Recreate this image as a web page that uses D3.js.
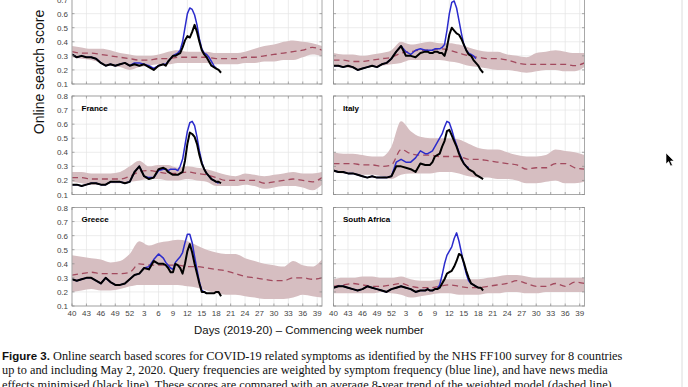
<!DOCTYPE html>
<html>
<head>
<meta charset="utf-8">
<script src="https://cdn.jsdelivr.net/npm/d3@7"></script>
<style>
  body { margin: 0; background: #fff; }
  svg { display: block; }
</style>
</head>
<body>
<script>
// week index 0 = week 40 of 2019, 51 = week 39 of 2020
const tickWeeks = [0, 3, 6, 9, 12, 15, 18, 21, 24, 27, 30, 33, 36, 39, 42, 45, 48, 51];
const tickLabels = ['40', '43', '46', '49', '52', '3', '6', '9', '12', '15', '18', '21', '24', '27', '30', '33', '36', '39'];
const yTicks = [0.1, 0.2, 0.3, 0.4, 0.5, 0.6, 0.7, 0.8];

// 8-year trend (dashed) and its band, every 2 weeks
const bandWeeks = [0, 2, 4, 6, 8, 10, 12, 14, 16, 18, 20, 22, 24, 26, 28, 30, 32, 34, 36, 38, 40, 42, 44, 46, 48, 50, 52];

// search scores, up to May 2 2020
const lineWeeks = [0, 1, 2, 3, 4, 5, 6, 7, 8, 9, 10, 11, 12, 13, 14, 15, 16, 17, 18, 19,
  19.5, 20, 20.5, 21, 21.5, 22, 22.5, 23, 23.5, 24, 24.5, 25, 25.5, 26, 26.5, 27, 27.5, 28, 28.5, 29, 29.5, 30, 30.5, 31];

// top left panel (title cut off)
const aMean  = [0.33, 0.32, 0.32, 0.31, 0.30, 0.29, 0.28, 0.27, 0.27, 0.28, 0.28, 0.29, 0.29, 0.29, 0.29, 0.28, 0.28, 0.28, 0.29, 0.29, 0.30, 0.31, 0.32, 0.33, 0.34, 0.36, 0.34];
const aUpper = [0.37, 0.36, 0.35, 0.35, 0.34, 0.32, 0.31, 0.30, 0.30, 0.31, 0.33, 0.34, 0.33, 0.33, 0.33, 0.32, 0.32, 0.32, 0.33, 0.35, 0.37, 0.38, 0.40, 0.41, 0.40, 0.39, 0.37];
const aLower = [0.29, 0.28, 0.27, 0.25, 0.23, 0.22, 0.20, 0.22, 0.23, 0.24, 0.24, 0.25, 0.25, 0.25, 0.25, 0.24, 0.24, 0.24, 0.25, 0.25, 0.26, 0.26, 0.27, 0.27, 0.29, 0.31, 0.30];
const aBlue  = [0.31, 0.29, 0.30, 0.29, 0.29, 0.28, 0.25, 0.23, 0.24, 0.23, 0.24, 0.25, 0.23, 0.25, 0.25, 0.24, 0.23, 0.21, 0.23, 0.24,
  0.24, 0.26, 0.28, 0.30, 0.31, 0.32, 0.34, 0.40, 0.50, 0.60, 0.64, 0.63, 0.59, 0.52, 0.42, 0.35, 0.32, 0.31, 0.29, 0.26, 0.23, 0.21, null, null];
const aBlack = [0.31, 0.29, 0.30, 0.29, 0.29, 0.28, 0.25, 0.23, 0.24, 0.23, 0.24, 0.25, 0.23, 0.24, 0.23, 0.24, 0.22, 0.20, 0.23, 0.24,
  0.23, 0.26, 0.28, 0.30, 0.30, 0.31, 0.32, 0.36, 0.41, 0.44, 0.43, 0.47, 0.52, 0.47, 0.40, 0.34, 0.31, 0.29, 0.26, 0.23, 0.22, 0.21, 0.20, 0.18];

// top right panel (title cut off)
const bMean  = [0.27, 0.27, 0.26, 0.26, 0.27, 0.28, 0.29, 0.32, 0.33, 0.34, 0.34, 0.35, 0.34, 0.32, 0.30, 0.29, 0.28, 0.28, 0.27, 0.25, 0.24, 0.24, 0.24, 0.24, 0.24, 0.23, 0.25];
const bUpper = [0.32, 0.31, 0.31, 0.30, 0.31, 0.32, 0.34, 0.40, 0.38, 0.39, 0.40, 0.39, 0.39, 0.38, 0.36, 0.34, 0.33, 0.33, 0.31, 0.30, 0.29, 0.32, 0.33, 0.34, 0.33, 0.32, 0.32];
const bLower = [0.22, 0.22, 0.21, 0.21, 0.22, 0.23, 0.24, 0.25, 0.27, 0.27, 0.27, 0.27, 0.26, 0.25, 0.23, 0.22, 0.21, 0.20, 0.20, 0.19, 0.18, 0.19, 0.20, 0.20, 0.19, 0.19, 0.22];
const bBlue  = [0.23, 0.23, 0.22, 0.23, 0.22, 0.20, 0.21, 0.22, 0.23, 0.22, 0.24, 0.25, 0.28, 0.33, 0.37, 0.33, 0.31, 0.34, 0.35, 0.34,
  0.34, 0.34, 0.34, 0.35, 0.35, 0.35, 0.36, 0.38, 0.48, 0.60, 0.68, 0.69, 0.64, 0.55, 0.46, 0.38, 0.34, 0.32, 0.31, 0.30, 0.28, null, null, null];
const bBlack = [0.23, 0.23, 0.22, 0.23, 0.22, 0.20, 0.21, 0.22, 0.23, 0.22, 0.24, 0.25, 0.28, 0.33, 0.37, 0.30, 0.30, 0.29, 0.32, 0.33,
  0.33, 0.32, 0.32, 0.33, 0.33, 0.32, 0.32, 0.30, 0.36, 0.45, 0.50, 0.48, 0.46, 0.45, 0.42, 0.38, 0.34, 0.31, 0.30, 0.27, 0.25, 0.23, 0.20, 0.18];

// France
const frMean  = [0.22, 0.22, 0.21, 0.21, 0.21, 0.21, 0.23, 0.26, 0.27, 0.26, 0.25, 0.25, 0.26, 0.25, 0.24, 0.22, 0.20, 0.20, 0.20, 0.20, 0.18, 0.19, 0.20, 0.21, 0.20, 0.19, 0.22];
const frUpper = [0.26, 0.26, 0.25, 0.25, 0.25, 0.26, 0.30, 0.34, 0.30, 0.31, 0.31, 0.29, 0.30, 0.29, 0.28, 0.26, 0.24, 0.23, 0.25, 0.24, 0.23, 0.24, 0.25, 0.26, 0.25, 0.25, 0.26];
const frLower = [0.19, 0.18, 0.17, 0.17, 0.18, 0.18, 0.19, 0.20, 0.21, 0.21, 0.20, 0.20, 0.21, 0.20, 0.19, 0.16, 0.16, 0.16, 0.17, 0.16, 0.14, 0.15, 0.16, 0.16, 0.15, 0.13, 0.17];
const frBlue  = [0.17, 0.17, 0.16, 0.17, 0.18, 0.18, 0.17, 0.17, 0.19, 0.19, 0.19, 0.18, 0.19, 0.26, 0.30, 0.23, 0.22, 0.22, 0.27, 0.28,
  0.28, 0.27, 0.28, 0.28, 0.28, 0.27, 0.30, 0.35, 0.45, 0.55, 0.61, 0.62, 0.59, 0.51, 0.41, 0.33, 0.28, 0.25, 0.23, 0.21, 0.20, 0.19, 0.18, null];
const frBlack = [0.17, 0.17, 0.16, 0.17, 0.18, 0.18, 0.17, 0.17, 0.19, 0.19, 0.19, 0.18, 0.19, 0.26, 0.30, 0.23, 0.21, 0.22, 0.28, 0.29,
  0.28, 0.26, 0.25, 0.24, 0.24, 0.24, 0.25, 0.26, 0.34, 0.46, 0.54, 0.53, 0.51, 0.46, 0.38, 0.32, 0.28, 0.25, 0.23, 0.21, 0.20, 0.19, 0.19, 0.18];

// Italy
const itMean  = [0.32, 0.32, 0.32, 0.31, 0.31, 0.30, 0.31, 0.42, 0.39, 0.38, 0.38, 0.37, 0.37, 0.37, 0.35, 0.35, 0.34, 0.33, 0.32, 0.31, 0.28, 0.29, 0.29, 0.32, 0.32, 0.29, 0.28];
const itUpper = [0.40, 0.39, 0.39, 0.38, 0.37, 0.37, 0.44, 0.62, 0.55, 0.51, 0.50, 0.50, 0.50, 0.49, 0.46, 0.43, 0.42, 0.42, 0.40, 0.38, 0.37, 0.37, 0.38, 0.42, 0.41, 0.40, 0.38];
const itLower = [0.26, 0.25, 0.25, 0.24, 0.24, 0.23, 0.21, 0.24, 0.25, 0.25, 0.25, 0.26, 0.26, 0.25, 0.23, 0.22, 0.22, 0.21, 0.21, 0.20, 0.18, 0.18, 0.19, 0.20, 0.18, 0.18, 0.19];
const itBlue  = [0.27, 0.26, 0.26, 0.25, 0.25, 0.24, 0.23, 0.22, 0.23, 0.22, 0.22, 0.22, 0.23, 0.33, 0.35, 0.33, 0.33, 0.36, 0.41, 0.39,
  0.39, 0.40, 0.41, 0.44, 0.47, 0.50, 0.53, 0.58, 0.62, 0.61, 0.56, 0.50, 0.45, 0.40, 0.36, 0.32, 0.30, 0.29, null, null, null, null, null, null];
const itBlack = [0.27, 0.26, 0.26, 0.25, 0.25, 0.24, 0.23, 0.22, 0.23, 0.22, 0.22, 0.22, 0.23, 0.30, 0.30, 0.29, 0.28, 0.26, 0.32, 0.31,
  0.31, 0.31, 0.33, 0.37, 0.38, 0.39, 0.44, 0.48, 0.55, 0.56, 0.52, 0.48, 0.44, 0.39, 0.35, 0.32, 0.30, 0.28, 0.27, 0.26, 0.24, 0.23, 0.22, 0.21];

// Greece
const grMean  = [0.32, 0.33, 0.34, 0.33, 0.33, 0.33, 0.34, 0.40, 0.39, 0.39, 0.39, 0.39, 0.38, 0.38, 0.37, 0.36, 0.35, 0.33, 0.31, 0.30, 0.29, 0.28, 0.28, 0.30, 0.30, 0.29, 0.30];
const grUpper = [0.46, 0.45, 0.44, 0.43, 0.41, 0.42, 0.47, 0.56, 0.53, 0.55, 0.56, 0.57, 0.56, 0.53, 0.50, 0.48, 0.47, 0.47, 0.44, 0.42, 0.40, 0.39, 0.38, 0.42, 0.39, 0.38, 0.43];
const grLower = [0.20, 0.21, 0.22, 0.21, 0.21, 0.22, 0.24, 0.25, 0.25, 0.25, 0.25, 0.25, 0.24, 0.23, 0.21, 0.19, 0.18, 0.18, 0.17, 0.16, 0.15, 0.15, 0.15, 0.16, 0.18, 0.17, 0.16];
const grBlue  = [0.29, 0.28, 0.29, 0.30, 0.30, 0.28, 0.26, 0.30, 0.27, 0.25, 0.25, 0.26, 0.29, 0.32, 0.33, 0.37, 0.38, 0.43, 0.47, 0.44,
  0.41, 0.39, 0.37, 0.36, 0.41, 0.43, 0.45, 0.48, 0.55, 0.61, 0.61, 0.55, 0.45, 0.36, 0.27, 0.21, 0.20, 0.19, null, null, null, null, null, null];
const grBlack = [0.29, 0.28, 0.29, 0.30, 0.30, 0.28, 0.26, 0.30, 0.27, 0.25, 0.25, 0.26, 0.29, 0.32, 0.33, 0.37, 0.36, 0.42, 0.40, 0.40,
  0.39, 0.37, 0.34, 0.34, 0.40, 0.39, 0.37, 0.33, 0.40, 0.49, 0.54, 0.48, 0.40, 0.33, 0.26, 0.20, 0.20, 0.19, 0.19, 0.19, 0.19, 0.20, 0.20, 0.17];

// South Africa
const saMean  = [0.24, 0.25, 0.26, 0.25, 0.24, 0.24, 0.25, 0.26, 0.24, 0.23, 0.23, 0.24, 0.25, 0.24, 0.23, 0.23, 0.24, 0.25, 0.26, 0.28, 0.26, 0.24, 0.24, 0.26, 0.24, 0.27, 0.26];
const saUpper = [0.29, 0.30, 0.30, 0.31, 0.31, 0.30, 0.30, 0.31, 0.29, 0.28, 0.28, 0.29, 0.29, 0.29, 0.29, 0.29, 0.30, 0.31, 0.32, 0.32, 0.31, 0.30, 0.30, 0.30, 0.30, 0.30, 0.30];
const saLower = [0.19, 0.19, 0.19, 0.19, 0.19, 0.20, 0.19, 0.18, 0.16, 0.17, 0.18, 0.19, 0.19, 0.18, 0.18, 0.18, 0.19, 0.19, 0.20, 0.20, 0.19, 0.19, 0.20, 0.20, 0.20, 0.20, 0.20];
const saBlue  = [0.23, 0.24, 0.24, 0.23, 0.22, 0.21, 0.22, 0.24, 0.23, 0.22, 0.21, 0.20, 0.22, 0.23, 0.24, 0.23, 0.22, 0.20, 0.21, 0.21,
  0.22, 0.21, 0.21, 0.22, 0.22, 0.25, 0.32, 0.40, 0.46, 0.49, 0.52, 0.58, 0.62, 0.56, 0.48, 0.40, 0.33, 0.28, 0.26, 0.25, 0.24, 0.23, null, null];
const saBlack = [0.23, 0.24, 0.24, 0.23, 0.22, 0.21, 0.22, 0.24, 0.23, 0.22, 0.21, 0.20, 0.22, 0.23, 0.24, 0.23, 0.22, 0.20, 0.21, 0.21,
  0.22, 0.21, 0.21, 0.22, 0.22, 0.23, 0.26, 0.29, 0.33, 0.34, 0.35, 0.38, 0.42, 0.47, 0.46, 0.41, 0.35, 0.30, 0.26, 0.25, 0.24, 0.23, 0.23, 0.21];

const panels = [
  {title: '', col: 0, row: 0, mean: aMean, upper: aUpper, lower: aLower, blue: aBlue, black: aBlack},
  {title: '', col: 1, row: 0, mean: bMean, upper: bUpper, lower: bLower, blue: bBlue, black: bBlack},
  {title: 'France', col: 0, row: 1, mean: frMean, upper: frUpper, lower: frLower, blue: frBlue, black: frBlack},
  {title: 'Italy', col: 1, row: 1, mean: itMean, upper: itUpper, lower: itLower, blue: itBlue, black: itBlack},
  {title: 'Greece', col: 0, row: 2, mean: grMean, upper: grUpper, lower: grLower, blue: grBlue, black: grBlack},
  {title: 'South Africa', col: 1, row: 2, mean: saMean, upper: saUpper, lower: saLower, blue: saBlue, black: saBlack}
];

const width = 688, height = 387;
const colX = [[72, 322], [333.5, 584.5]];
const rowBottom = [84, 194.5, 306];
const panelH = 98.5;
const font = 'Helvetica, Arial, "Liberation Sans", sans-serif';

const svg = d3.select('body').append('svg')
  .attr('width', width)
  .attr('height', height);

panels.forEach((p, i) => {
  const [x0, x1] = colX[p.col];
  const yb = rowBottom[p.row];
  const x = d3.scaleLinear().domain([0, 52]).range([x0, x1]);
  const y = d3.scaleLinear().domain([0.1, 0.8]).range([yb, yb - panelH]);

  const g = svg.append('g');

  svg.append('clipPath').attr('id', 'clip' + i)
    .append('rect')
    .attr('x', x0).attr('y', yb - panelH)
    .attr('width', x1 - x0).attr('height', panelH);

  // grid
  g.append('g').selectAll('line.vg')
    .data(tickWeeks)
    .join('line')
    .attr('x1', d => x(d)).attr('x2', d => x(d))
    .attr('y1', yb).attr('y2', yb - panelH)
    .attr('stroke', '#e4e4e4').attr('stroke-width', 0.7);
  g.append('g').selectAll('line.hg')
    .data(yTicks)
    .join('line')
    .attr('x1', x0).attr('x2', x1)
    .attr('y1', d => y(d)).attr('y2', d => y(d))
    .attr('stroke', '#e4e4e4').attr('stroke-width', 0.7);

  const plot = g.append('g').attr('clip-path', `url(#clip${i})`);

  // band of the 8-year trend
  const band = bandWeeks.map((w, k) => ({w: w, lo: p.lower[k], hi: p.upper[k], m: p.mean[k]}));
  plot.append('path')
    .datum(band)
    .attr('fill', '#d6bec1')
    .attr('d', d3.area().curve(d3.curveMonotoneX)
      .x(d => x(d.w)).y0(d => y(d.lo)).y1(d => y(d.hi)));

  plot.append('path')
    .datum(band)
    .attr('fill', 'none')
    .attr('stroke', '#a24a5e')
    .attr('stroke-width', 1.3)
    .attr('stroke-dasharray', '6,4')
    .attr('d', d3.line().curve(d3.curveMonotoneX).x(d => x(d.w)).y(d => y(d.m)));

  // weighted (blue) and news-adjusted (black) scores
  const line = d3.line()
    .defined(d => d.v != null)
    .x(d => x(d.w)).y(d => y(d.v));

  plot.append('path')
    .datum(lineWeeks.map((w, k) => ({w: w, v: p.blue[k]})))
    .attr('fill', 'none')
    .attr('stroke', '#2b2bcc')
    .attr('stroke-width', 1.5)
    .attr('stroke-linejoin', 'round')
    .attr('d', line);

  plot.append('path')
    .datum(lineWeeks.map((w, k) => ({w: w, v: p.black[k]})))
    .attr('fill', 'none')
    .attr('stroke', '#000')
    .attr('stroke-width', 2)
    .attr('stroke-linejoin', 'round')
    .attr('d', line);

  // box
  g.append('rect')
    .attr('x', x0).attr('y', yb - panelH)
    .attr('width', x1 - x0).attr('height', panelH)
    .attr('fill', 'none')
    .attr('stroke', '#a8a8a8')
    .attr('stroke-width', 1);

  // inward ticks on all sides
  const tl = 2.5;
  g.append('g').selectAll('line')
    .data(tickWeeks)
    .join(enter => {
      const s = enter.append('g');
      s.append('line').attr('x1', d => x(d)).attr('x2', d => x(d)).attr('y1', yb).attr('y2', yb - tl);
      s.append('line').attr('x1', d => x(d)).attr('x2', d => x(d)).attr('y1', yb - panelH).attr('y2', yb - panelH + tl);
      return s;
    })
    .attr('stroke', '#888').attr('stroke-width', 0.7);
  g.append('g').selectAll('line')
    .data(yTicks)
    .join(enter => {
      const s = enter.append('g');
      s.append('line').attr('x1', x0).attr('x2', x0 + tl).attr('y1', d => y(d)).attr('y2', d => y(d));
      s.append('line').attr('x1', x1).attr('x2', x1 - tl).attr('y1', d => y(d)).attr('y2', d => y(d));
      return s;
    })
    .attr('stroke', '#888').attr('stroke-width', 0.7);

  // y tick labels on the left column
  if (p.col === 0) {
    g.append('g').selectAll('text')
      .data(yTicks)
      .join('text')
      .attr('x', x0 - 4)
      .attr('y', d => y(d) + 3)
      .attr('text-anchor', 'end')
      .style('font-family', font)
      .style('font-size', '8px')
      .style('fill', '#444')
      .text(d => d.toFixed(1));
  }

  // x tick labels on the bottom row
  if (p.row === 2) {
    g.append('g').selectAll('text')
      .data(tickWeeks)
      .join('text')
      .attr('x', d => x(d))
      .attr('y', yb + 9.5)
      .attr('text-anchor', 'middle')
      .style('font-family', font)
      .style('font-size', '8px')
      .style('fill', '#444')
      .text((d, k) => tickLabels[k]);
  }

  if (p.title) {
    g.append('text')
      .attr('x', x0 + 9.5)
      .attr('y', yb - panelH + 14.5)
      .style('font-family', font)
      .style('font-size', '8px')
      .style('font-weight', 'bold')
      .style('fill', '#000')
      .text(p.title);
  }
});

// axis titles
svg.append('text')
  .attr('transform', 'translate(44,72) rotate(-90)')
  .attr('text-anchor', 'middle')
  .style('font-family', font)
  .style('font-size', '14px')
  .style('fill', '#111')
  .text('Online search score');

svg.append('text')
  .attr('x', 309)
  .attr('y', 333.5)
  .attr('text-anchor', 'middle')
  .style('font-family', font)
  .style('font-size', '11.4px')
  .style('fill', '#111')
  .text('Days (2019-20) \u2013 Commencing week number');

// caption
const serif = '"Liberation Serif", "Times New Roman", serif';
const cap = svg.append('g').style('fill', '#111');
const l1 = cap.append('text').attr('x', 2).attr('y', 359.5);
l1.append('tspan')
  .style('font-family', font).style('font-weight', 'bold').style('font-size', '11.5px')
  .text('Figure 3.');
l1.append('tspan')
  .style('font-family', serif).style('font-size', '12.3px')
  .text(' Online search based scores for COVID-19 related symptoms as identified by the NHS FF100 survey for 8 countries');
cap.append('text').attr('x', 2).attr('y', 374)
  .style('font-family', serif).style('font-size', '12.3px')
  .text('up to and including May 2, 2020. Query frequencies are weighted by symptom frequency (blue line), and have news media');
cap.append('text').attr('x', 2).attr('y', 388.5)
  .style('font-family', serif).style('font-size', '12.3px')
  .text('effects minimised (black line). These scores are compared with an average 8-year trend of the weighted model (dashed line).');

// page edge and mouse pointer from the screenshot
svg.append('line')
  .attr('x1', 682).attr('x2', 682).attr('y1', 0).attr('y2', 387)
  .attr('stroke', '#dcdcdc').attr('stroke-width', 1);
svg.append('path')
  .attr('transform', 'translate(666,153)')
  .attr('d', 'M0,0 L0,11 L2.6,8.6 L4.6,13 L6.4,12.2 L4.5,8 L8,8 Z')
  .attr('fill', '#000')
  .attr('stroke', '#fff')
  .attr('stroke-width', 0.6);
</script>
</body>
</html>
